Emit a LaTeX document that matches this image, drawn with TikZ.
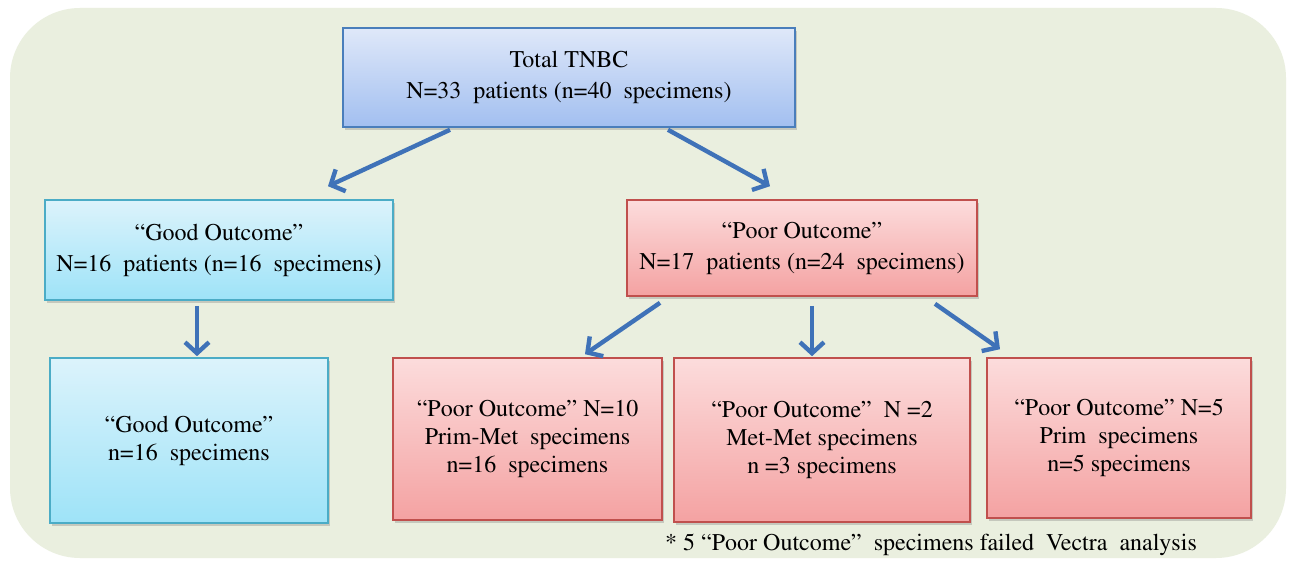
\documentclass[tikz,border=0pt]{standalone}
\usepackage[T1]{fontenc}
\renewcommand{\rmdefault}{ptm}
\usetikzlibrary{arrows.meta,shadows}
\definecolor{bgc}{HTML}{EAEFDF}
\definecolor{bluetop}{HTML}{DFE8F9}
\definecolor{bluebot}{HTML}{A2BFF0}
\definecolor{blueline}{HTML}{4A7EBB}
\definecolor{cyantop}{HTML}{DCF3FB}
\definecolor{cyanbot}{HTML}{9EE3F8}
\definecolor{cyanline}{HTML}{4BACC6}
\definecolor{pinktop}{HTML}{FCDCDC}
\definecolor{pinkbot}{HTML}{F4A2A2}
\definecolor{redline}{HTML}{C0504D}
\definecolor{arrowc}{HTML}{3F72B8}
\tikzset{
  box/.style={draw, line width=0.8pt, align=center, inner sep=0pt,
    font=\rmfamily\fontsize{12}{15.5}\selectfont,
    drop shadow={shadow xshift=1.2pt, shadow yshift=-1.5pt, opacity=0.35}},
  bluebox/.style={box, draw=blueline, top color=bluetop, bottom color=bluebot},
  cyanbox/.style={box, draw=cyanline, top color=cyantop, bottom color=cyanbot},
  pinkbox/.style={box, draw=redline, top color=pinktop, bottom color=pinkbot},
  lowbox/.style={font=\rmfamily\fontsize{12}{14}\selectfont},
  arr/.style={draw=arrowc, line width=2.2pt, -{Straight Barb[length=5.5pt,width=12pt,line width=2.2pt]}}
}
\begin{document}
\begin{tikzpicture}[x=0.5pt,y=-0.5pt]
\useasboundingbox (0,0) rectangle (1290,561);
\fill[white] (0,0) rectangle (1290,561);
\fill[bgc, rounded corners=35pt] (10,8) rectangle (1286,558);

\node[bluebox, minimum width=226pt, minimum height=49.5pt] (top) at (569,77.5)
  {Total TNBC\\N=33\ \ patients (n=40\ \ specimens)};
\node[cyanbox, minimum width=174pt, minimum height=50pt] (good1) at (219,250)
  {``Good Outcome''\\N=16\ \ patients (n=16\ \ specimens)};
\node[pinkbox, minimum width=175pt, minimum height=48pt] (poor1) at (802,248)
  {``Poor Outcome''\\N=17\ \ patients (n=24\ \ specimens)};
\node[cyanbox, lowbox, minimum width=139pt, minimum height=82.5pt] (good2) at (189,440.5)
  {``Good Outcome''\\n=16\ \ specimens};
\node[pinkbox, lowbox, minimum width=134.5pt, minimum height=81pt] (pA) at (527.5,439)
  {``Poor Outcome'' N=10\\Prim-Met\ \ specimens\\n=16\ \ specimens};
\node[pinkbox, lowbox, minimum width=148pt, minimum height=82pt] (pB) at (822,440)
  {``Poor Outcome''\ \ N =2\\Met-Met specimens\\n =3 specimens};
\node[pinkbox, lowbox, minimum width=132pt, minimum height=80pt] (pC) at (1119,438)
  {``Poor Outcome'' N=5\\Prim\ \ specimens\\n=5 specimens};
\node[font=\rmfamily\fontsize{12}{14}\selectfont, inner sep=0pt] (note) at (931,545)
  {* 5 ``Poor Outcome''\ \ specimens failed\ \ Vectra\ \ analysis};

\draw[arr] ([xshift=-59.5pt,yshift=-1pt]top.south) -- ([xshift=54.5pt,yshift=6.5pt]good1.north);
\draw[arr] ([xshift=49.5pt,yshift=-1pt]top.south) -- ([xshift=-16pt,yshift=6.5pt]poor1.north);
\draw[arr] ([xshift=-11pt,yshift=-2.5pt]good1.south) -- ([xshift=4pt,yshift=0.5pt]good2.north);
\draw[arr] ([xshift=-71pt,yshift=-3pt]poor1.south) -- ([xshift=28.75pt,yshift=1.5pt]pA.north);
\draw[arr] ([xshift=5pt,yshift=-4.5pt]poor1.south) -- ([xshift=-5pt,yshift=0.5pt]pB.north);
\draw[arr] ([xshift=66.5pt,yshift=-3.5pt]poor1.south) -- ([xshift=-59.5pt,yshift=4pt]pC.north);
\end{tikzpicture}
\end{document}
